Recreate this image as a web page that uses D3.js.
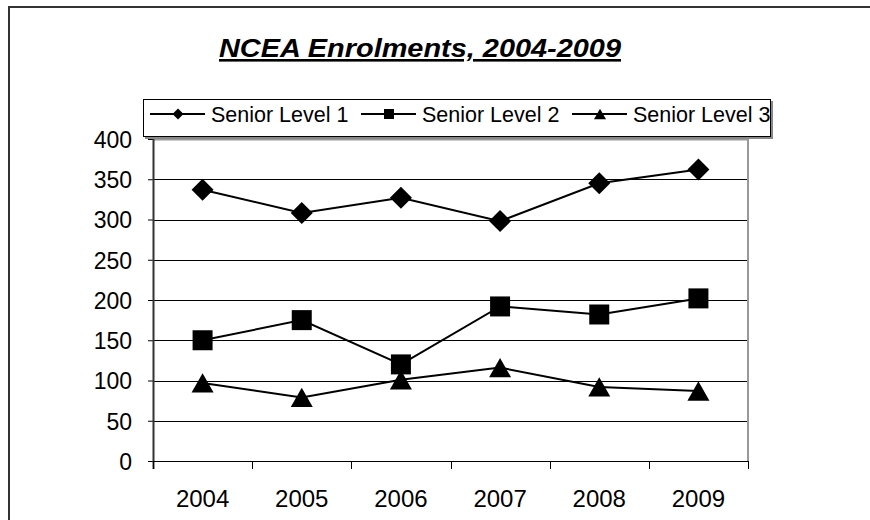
<!DOCTYPE html>
<html>
<head>
<meta charset="utf-8">
<script src="https://cdn.jsdelivr.net/npm/d3@7"></script>
<style>
  html, body { margin: 0; padding: 0; background: #fff; }
  svg { display: block; }
  text { font-family: "Liberation Sans", Arial, sans-serif; fill: #000; }
</style>
</head>
<body>
<svg id="chart" width="870" height="520"></svg>
<script>
// ---- data ----
const titleText = "NCEA Enrolments, 2004-2009";
const categories = ["2004", "2005", "2006", "2007", "2008", "2009"];
const seriesNames = ["Senior Level 1", "Senior Level 2", "Senior Level 3"];
const level1 = [337, 308, 327, 298, 345, 362];
const level2 = [150, 175, 120, 192, 182, 202];
const level3 = [97, 79, 101, 116, 92, 87];
const yTicks = [0, 50, 100, 150, 200, 250, 300, 350, 400];

const seriesValues = [level1, level2, level3];
const markerKinds = ["diamond", "square", "triangle"];

// ---- custom marker shapes (size = bounding width) ----
const shapes = {
  diamond: { draw(ctx, w) { const r = w / 2; ctx.moveTo(0, -r); ctx.lineTo(r, 0); ctx.lineTo(0, r); ctx.lineTo(-r, 0); ctx.closePath(); } },
  square: { draw(ctx, w) { const r = w / 2; ctx.rect(-r, -r, w, w); } },
  triangle: { draw(ctx, w) { const r = w / 2, h = w * 0.88; ctx.moveTo(0, -h / 2); ctx.lineTo(r, h / 2); ctx.lineTo(-r, h / 2); ctx.closePath(); } }
};
const chartMarkerSize = { diamond: 22, square: 20, triangle: 22 };
const legendMarkerSize = { diamond: 11, square: 10, triangle: 12 };

const svg = d3.select("#chart");

// outer chart border (extends past the right/bottom of the picture)
svg.append("path")
  .attr("d", "M9,540V7H900")
  .attr("fill", "none").attr("stroke", "#333").attr("stroke-width", 2);

// title
svg.append("text")
  .attr("x", 420).attr("y", 57)
  .attr("text-anchor", "middle")
  .attr("font-size", 26).attr("font-weight", "bold").attr("font-style", "italic")
  .attr("text-decoration", "underline")
  .attr("textLength", 402).attr("lengthAdjust", "spacingAndGlyphs")
  .text(titleText);

// scales
const plot = { left: 153, right: 748, top: 139, bottom: 461 };
const x = d3.scaleBand().domain(categories).range([plot.left, plot.right]).padding(0);
const y = d3.scaleLinear().domain([0, 400]).range([plot.bottom, plot.top]);
const cx = c => x(c) + x.bandwidth() / 2;

// gridlines
svg.append("g").selectAll("line")
  .data(yTicks.filter(t => t > 0 && t < 400))
  .join("line")
  .attr("x1", plot.left).attr("x2", plot.right)
  .attr("y1", d => Math.round(y(d)) + 0.5).attr("y2", d => Math.round(y(d)) + 0.5)
  .attr("stroke", "#000").attr("stroke-width", 1);

// plot area top & right border (gray)
svg.append("path")
  .attr("d", `M${plot.left},${plot.top + 0.5}H${plot.right}V${plot.bottom}`)
  .attr("fill", "none").attr("stroke", "#999").attr("stroke-width", 2);

// y axis
const yAxis = d3.axisLeft(y).tickValues(yTicks).tickSize(5).tickPadding(16);
const gy = svg.append("g").attr("transform", `translate(${plot.left},0)`).call(yAxis);
gy.select(".domain").remove();
gy.selectAll(".tick line").attr("stroke", "#000");
gy.selectAll(".tick text").attr("font-size", 23).attr("font-family", "Liberation Sans, Arial, sans-serif").attr("dy", "0.36em");
svg.append("line")
  .attr("x1", plot.left + 0.5).attr("x2", plot.left + 0.5)
  .attr("y1", plot.top).attr("y2", plot.bottom + 8)
  .attr("stroke", "#333").attr("stroke-width", 2);

// x axis
svg.append("line")
  .attr("x1", plot.left).attr("x2", plot.right)
  .attr("y1", plot.bottom + 0.5).attr("y2", plot.bottom + 0.5)
  .attr("stroke", "#000").attr("stroke-width", 1);
const boundaries = categories.map(c => x(c)).concat([x(categories[categories.length - 1]) + x.bandwidth()]);
svg.append("g").selectAll("line").data(boundaries).join("line")
  .attr("x1", d => Math.round(d) + 0.5).attr("x2", d => Math.round(d) + 0.5)
  .attr("y1", plot.bottom).attr("y2", plot.bottom + 8)
  .attr("stroke", "#000").attr("stroke-width", 1);
svg.append("g").selectAll("text").data(categories).join("text")
  .attr("x", d => cx(d)).attr("y", 507)
  .attr("text-anchor", "middle").attr("font-size", 24)
  .text(d => d);

// series lines & markers
const line = d3.line().x((v, i) => cx(categories[i])).y(v => y(v));
seriesValues.forEach((vals, si) => {
  const g = svg.append("g");
  g.append("path").attr("d", line(vals))
    .attr("fill", "none").attr("stroke", "#000").attr("stroke-width", 2);
  const kind = markerKinds[si];
  g.selectAll("path.m").data(vals).join("path").attr("class", "m")
    .attr("transform", (v, i) => `translate(${cx(categories[i])},${y(v)})`)
    .attr("d", d3.symbol().type(shapes[kind]).size(chartMarkerSize[kind]))
    .attr("fill", "#000");
});

// legend
const legend = svg.append("g");
legend.append("rect").attr("x", 145).attr("y", 101).attr("width", 628).attr("height", 38).attr("fill", "#888");
legend.append("rect").attr("x", 143.5).attr("y", 99.5).attr("width", 627).attr("height", 37)
  .attr("fill", "#fff").attr("stroke", "#000").attr("stroke-width", 1);
const legendX = [150, 361, 572];
seriesNames.forEach((name, i) => {
  const lx = legendX[i], ly = 114;
  const kind = markerKinds[i];
  legend.append("line").attr("x1", lx).attr("x2", lx + 55).attr("y1", ly).attr("y2", ly)
    .attr("stroke", "#000").attr("stroke-width", 2);
  legend.append("path").attr("transform", `translate(${lx + 28},${ly})`)
    .attr("d", d3.symbol().type(shapes[kind]).size(legendMarkerSize[kind])).attr("fill", "#000");
  legend.append("text").attr("x", lx + 61).attr("y", 122).attr("font-size", 21.5).text(name);
});
</script>
</body>
</html>
